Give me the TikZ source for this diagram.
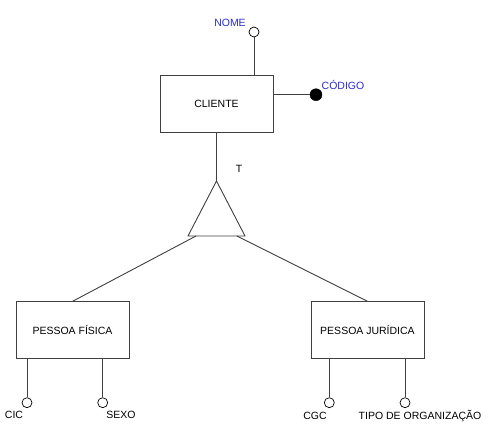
\documentclass[tikz,border=0pt]{standalone}
\usepackage{fontspec}
\setmainfont{Liberation Sans}
\definecolor{lncol}{HTML}{404040}
\definecolor{attrblue}{HTML}{2B2BC8}
\begin{document}
\begin{tikzpicture}[x=1pt,y=-1pt,
  ent/.style={draw=lncol,line width=0.9pt,minimum width=113pt,minimum height=57pt,inner sep=0pt,font=\fontsize{10.5}{12}\selectfont},
  attr/.style={circle,draw=black,fill=white,line width=0.7pt,minimum size=10pt,inner sep=0pt},
  keyattr/.style={circle,draw=black,fill=black,minimum size=12pt,inner sep=0pt},
  conn/.style={draw=lncol,line width=0.9pt},
  lbl/.style={inner sep=0pt,font=\fontsize{10.5}{12}\selectfont},
  blbl/.style={lbl,text=attrblue}]
\useasboundingbox (0,0) rectangle (488,442);
\fill[white] (0,0) rectangle (488,442);
% entities
\node[ent] (cli) at (216.5,104) {CLIENTE};
\node[ent] (pf) at (72.5,330.3) {PESSOA FÍSICA};
\node[ent] (pj) at (367.5,330.3) {PESSOA JURÍDICA};
% generalization triangle
\coordinate (tapex) at (216.5,181);
\coordinate (tbl) at (188,236);
\coordinate (tbr) at (245,236);
\draw[conn] (tapex) -- (tbl) -- (tbr) -- cycle;
\coordinate (tl) at (196,236);
\coordinate (tr) at (237,236);
\node[lbl] (tlab) at (239,169) {T};
\draw[conn] (cli.south) -- (tapex);
\draw[conn] (tl) -- (pf.north);
\draw[conn] (tr) -- (pj.north);
% CLIENTE attributes
\node[attr] (nome) at (254,32) {};
\node[blbl] (nomel) at (230,23) {NOME};
\draw[conn] (nome) -- (nome |- cli.north);
\node[keyattr] (cod) at (316,94.7) {};
\node[blbl] (codl) at (343,85) {CÓDIGO};
\draw[conn] (cod) -- (cli.east |- cod);
% PESSOA FISICA attributes
\node[attr] (cic) at (27,402.7) {};
\node[lbl] (cicl) at (14,415) {CIC};
\draw[conn] (cic) -- (cic |- pf.south);
\node[attr] (sexo) at (102.7,402.7) {};
\node[lbl] (sexol) at (121,415) {SEXO};
\draw[conn] (sexo) -- (sexo |- pf.south);
% PESSOA JURIDICA attributes
\node[attr] (cgc) at (329.3,402.7) {};
\node[lbl] (cgcl) at (315,416) {CGC};
\draw[conn] (cgc) -- (cgc |- pj.south);
\node[attr] (tipo) at (405,402.7) {};
\node[lbl] (tipol) at (420,416) {TIPO DE ORGANIZAÇÃO};
\draw[conn] (tipo) -- (tipo |- pj.south);
\end{tikzpicture}
\end{document}
